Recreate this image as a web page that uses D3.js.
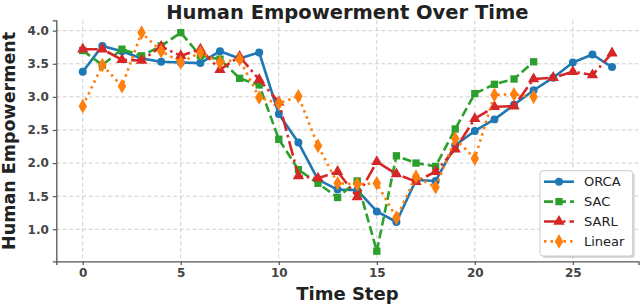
<!DOCTYPE html>
<html>
<head>
<meta charset="utf-8">
<script src="https://cdn.jsdelivr.net/npm/d3@7"></script>
<style>
  html, body { margin: 0; padding: 0; background: #fff; }
  svg { display: block; }
</style>
</head>
<body>
<svg id="chart" width="640" height="306"></svg>
<script>
const timeSteps = d3.range(0, 28);
const orca = [3.38, 3.77, 3.69, 3.58, 3.53, 3.52, 3.51, 3.69, 3.58, 3.67,
              2.74, 2.31, 1.75, 1.60, 1.59, 1.27, 1.11, 1.745, 1.73, 2.27,
              2.485, 2.66, 2.88, 3.10, 3.29, 3.52, 3.64, 3.45];
const sac = [3.70, 3.48, 3.72, 3.62, 3.77, 3.97, 3.62, 3.57, 3.28, 3.18,
             2.36, 1.90, 1.695, 1.48, 1.73, 0.67, 2.11, 2.00, 1.95, 2.515,
             3.05, 3.19, 3.27, 3.53];
const sarl = [3.72, 3.72, 3.56, 3.55, 3.76, 3.62, 3.72, 3.41, 3.61, 3.26,
              2.92, 1.805, 1.77, 1.87, 1.49, 2.02, 1.835, 1.72, 1.87, 2.21,
              2.67, 2.85, 2.86, 3.27, 3.29, 3.38, 3.33, 3.66];
const linear = [2.86, 3.48, 3.16, 3.97, 3.69, 3.52, 3.67, 3.52, 3.57, 2.99,
                2.90, 3.01, 2.26, 1.695, 1.68, 1.695, 1.175, 1.795, 1.635, 2.37,
                2.07, 3.03, 3.04, 3.00];
const xTicks = [0, 5, 10, 15, 20, 25];
const yTicks = [1.0, 1.5, 2.0, 2.5, 3.0, 3.5, 4.0];
const seriesNames = ["ORCA", "SAC", "SARL", "Linear"];

(function () {
const series = [
  {name: seriesNames[0], values: orca, color: "#1f77b4", marker: "circle", dash: null},
  {name: seriesNames[1], values: sac, color: "#2ca02c", marker: "square", dash: "9,4"},
  {name: seriesNames[2], values: sarl, color: "#d62728", marker: "triangle", dash: "15,4,2.5,4"},
  {name: seriesNames[3], values: linear, color: "#ff7f0e", marker: "diamond", dash: "2.5,4"}
];

const svg = d3.select("#chart");
const pL = 56.3, pR = 638.5, pT = 20.4, pB = 261.4;
const x = d3.scaleLinear().domain([-1.35, 28.35]).range([pL, pR]);
const y = d3.scaleLinear().domain([0.515, 4.155]).range([pB, pT]);

// grid
const grid = svg.append("g");
grid.selectAll("line.gx").data(xTicks).enter().append("line")
  .attr("x1", d => x(d)).attr("x2", d => x(d)).attr("y1", pT).attr("y2", pB)
  .attr("stroke", "#cfcfcf").attr("stroke-width", 1).attr("stroke-dasharray", "4,2.5");
grid.selectAll("line.gy").data(yTicks).enter().append("line")
  .attr("x1", pL).attr("x2", pR).attr("y1", d => y(d)).attr("y2", d => y(d))
  .attr("stroke", "#cfcfcf").attr("stroke-width", 1).attr("stroke-dasharray", "4,2.5");

// axes
const xAxis = d3.axisBottom(x).tickValues(xTicks).tickFormat(d3.format("d")).tickSize(3.5).tickPadding(4);
const yAxis = d3.axisLeft(y).tickValues(yTicks).tickFormat(d3.format(".1f")).tickSize(3.5).tickPadding(4);
const gx = svg.append("g").attr("transform", `translate(0,${pB})`).call(xAxis);
const gy = svg.append("g").attr("transform", `translate(${pL},0)`).call(yAxis);
[gx, gy].forEach(g => {
  g.select(".domain").attr("stroke", "#555").attr("stroke-width", 1.3);
  g.selectAll(".tick line").attr("stroke", "#555").attr("stroke-width", 1.2);
  g.selectAll(".tick text").attr("fill", "#444").attr("font-family", "DejaVu Sans")
    .attr("font-size", 12).attr("font-weight", "bold");
});

// symbols
function symbolFor(m) {
  if (m === "circle") return d3.symbol().type(d3.symbolCircle).size(50);
  if (m === "square") return d3.symbol().type(d3.symbolSquare).size(54);
  if (m === "triangle") return d3.symbol().type(d3.symbolTriangle).size(56);
  return d3.symbol().type(d3.symbolDiamond).size(62);
}

const line = d3.line().x((d, i) => x(timeSteps[i])).y(d => y(d));

series.forEach(s => {
  const g = svg.append("g");
  g.append("path").datum(s.values)
    .attr("d", line).attr("fill", "none").attr("stroke", s.color)
    .attr("stroke-width", 2.6).attr("stroke-linejoin", "round")
    .attr("stroke-dasharray", s.dash);
  g.selectAll("path.m").data(s.values).enter().append("path")
    .attr("class", "m")
    .attr("d", symbolFor(s.marker))
    .attr("transform", (d, i) => `translate(${x(timeSteps[i])},${y(d)})`)
    .attr("fill", s.color);
});

// title and labels
svg.append("text").attr("x", (pL + pR) / 2).attr("y", 18.5)
  .attr("text-anchor", "middle").attr("font-family", "DejaVu Sans")
  .attr("font-weight", "bold").attr("font-size", 19.5).attr("fill", "#222")
  .text("Human Empowerment Over Time");
svg.append("text").attr("x", (pL + pR) / 2).attr("y", 300)
  .attr("text-anchor", "middle").attr("font-family", "DejaVu Sans")
  .attr("font-weight", "bold").attr("font-size", 18).attr("fill", "#222")
  .text("Time Step");
svg.append("text")
  .attr("transform", `translate(15,${(pT + pB) / 2}) rotate(-90)`)
  .attr("text-anchor", "middle").attr("font-family", "DejaVu Sans")
  .attr("font-weight", "bold").attr("font-size", 17.5).attr("fill", "#222")
  .text("Human Empowerment");

// legend
const lg = svg.append("g");
const lx = 540, ly = 170.7, lw = 92.7, lh = 85.3;
lg.append("rect").attr("x", lx + 2).attr("y", ly + 2).attr("width", lw).attr("height", lh)
  .attr("rx", 3).attr("fill", "#bbb").attr("opacity", 0.6);
lg.append("rect").attr("x", lx).attr("y", ly).attr("width", lw).attr("height", lh)
  .attr("rx", 3).attr("fill", "#fff").attr("stroke", "#ccc").attr("stroke-width", 1);
series.forEach((s, i) => {
  const yy = 181.7 + i * 19.9;
  lg.append("line").attr("x1", 544).attr("x2", 574).attr("y1", yy).attr("y2", yy)
    .attr("stroke", s.color).attr("stroke-width", 2.6).attr("stroke-dasharray", s.dash);
  lg.append("path").attr("d", symbolFor(s.marker)).attr("transform", `translate(559,${yy})`)
    .attr("fill", s.color);
  lg.append("text").attr("x", 584).attr("y", yy + 4.5)
    .attr("font-family", "DejaVu Sans").attr("font-size", 13).attr("fill", "#222")
    .text(s.name);
});
})();
</script>
</body>
</html>
